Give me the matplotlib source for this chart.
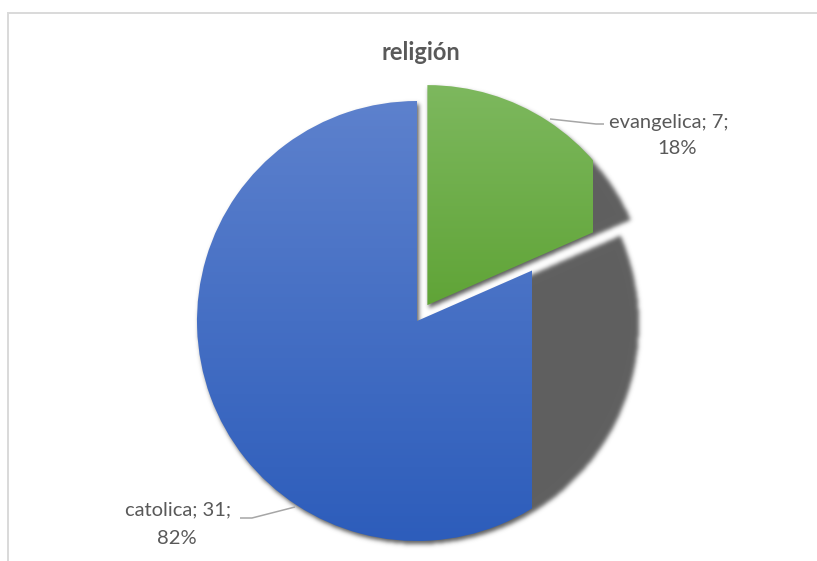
import numpy as np
import matplotlib
matplotlib.use("Agg")
import matplotlib.pyplot as plt
from matplotlib.path import Path
from matplotlib.colors import to_rgb

# --- data -------------------------------------------------------------
categories = ["evangelica", "catolica"]
counts = [7, 31]
percent_labels = ["18%", "82%"]
chart_title = "religión"

# --- styling ----------------------------------------------------------
W, H = 817, 561
TEXT = "#595959"
FONT = ["Lato", "DejaVu Sans"]
top_colors = ["#7db85e", "#5d81cd"]     # lighter tone at the top of each slice
bottom_colors = ["#60a437", "#2d5dbb"]  # darker tone at the bottom
fill_extent = [0.75, 0.52]              # share of radius the fill reaches right of the apex
SHADOW = "#5f5f5f"

plt.rcParams["font.family"] = FONT

fig = plt.figure(figsize=(W / 100, H / 100), dpi=100)
ax = fig.add_axes([0, 0, 1, 1])

pie_center = (417, H - 321)
pie_radius = 220
wedges, _ = ax.pie(
    counts,
    radius=pie_radius,
    center=pie_center,
    startangle=90,
    counterclock=False,
    explode=[19, 0],
    wedgeprops=dict(facecolor="none", edgecolor="none"),
)
ax.set_xlim(0, W)
ax.set_ylim(0, H)
ax.set_aspect("auto")
ax.axis("off")

# --- soft drop shadow behind the slices -------------------------------
xs = np.arange(W) + 0.5
ys = np.arange(H) + 0.5
gx, gy = np.meshgrid(xs, ys)
pts = np.column_stack([gx.ravel(), gy.ravel()])
shadow_dx, shadow_dy = 2.0, -3.0
mask = np.zeros(len(pts), dtype=float)
for w in wedges:
    p = w.get_path()
    shifted = Path(p.vertices + np.array([shadow_dx, shadow_dy]), p.codes)
    mask = np.maximum(mask, shifted.contains_points(pts).astype(float))
mask = mask.reshape(H, W)

sigma = 2.2
k = np.arange(-8, 9)
kern = np.exp(-0.5 * (k / sigma) ** 2)
kern /= kern.sum()
blur = np.apply_along_axis(lambda r: np.convolve(r, kern, mode="same"), 1, mask)
blur = np.apply_along_axis(lambda c: np.convolve(c, kern, mode="same"), 0, blur)
rgba = np.zeros((H, W, 4))
rgba[..., :3] = to_rgb(SHADOW)
rgba[..., 3] = np.clip(blur, 0, 1)
ax.imshow(rgba, extent=(0, W, 0, H), origin="lower", zorder=1,
          interpolation="bilinear", aspect="auto")

# --- gradient fills, clipped to each wedge ----------------------------
for w, c_top, c_bot, frac in zip(wedges, top_colors, bottom_colors, fill_extent):
    ext = w.get_path().get_extents()
    cx = w.center[0]
    x_right = min(ext.x1, cx + frac * w.r)
    t = np.linspace(0, 1, 256)[:, None, None]
    grad = (1 - t) * np.array(to_rgb(c_top)) + t * np.array(to_rgb(c_bot))
    im = ax.imshow(grad, extent=(ext.x0 - 1, x_right, ext.y0, ext.y1),
                   origin="upper", zorder=2, aspect="auto",
                   interpolation="bilinear")
    im.set_clip_path(w)

# --- title --------------------------------------------------------------
ax.text(421, H - 52, chart_title, ha="center", va="center",
        fontsize=17, fontweight="bold", color=TEXT, zorder=5)

# --- data labels with leader lines ------------------------------------
label_pos = {
    "evangelica": [(669, H - 122), (677, H - 148)],
    "catolica": [(178, H - 510), (177, H - 538)],
}
leaders = {
    "evangelica": [(550, H - 119), (596, H - 124), (604, H - 124)],
    "catolica": [(240, H - 518), (252, H - 518), (295, H - 507)],
}
for cat, val, pct in zip(categories, counts, percent_labels):
    (x1, y1), (x2, y2) = label_pos[cat]
    ax.text(x1, y1, f"{cat}; {val};", ha="center", va="center",
            fontsize=14.5, color=TEXT, zorder=5)
    ax.text(x2, y2, pct, ha="center", va="center",
            fontsize=14.5, color=TEXT, zorder=5)
    lx, ly = zip(*leaders[cat])
    ax.plot(lx, ly, color="#a6a6a6", lw=1.1, zorder=4, solid_capstyle="butt")

# --- chart area frame (top and left edges visible) ---------------------
ax.plot([8.5, 8.5, W], [0, H - 12.5, H - 12.5], color="#d9d9d9", lw=1.4,
        zorder=6, solid_joinstyle="miter")

fig.savefig("out.png", dpi=100)
